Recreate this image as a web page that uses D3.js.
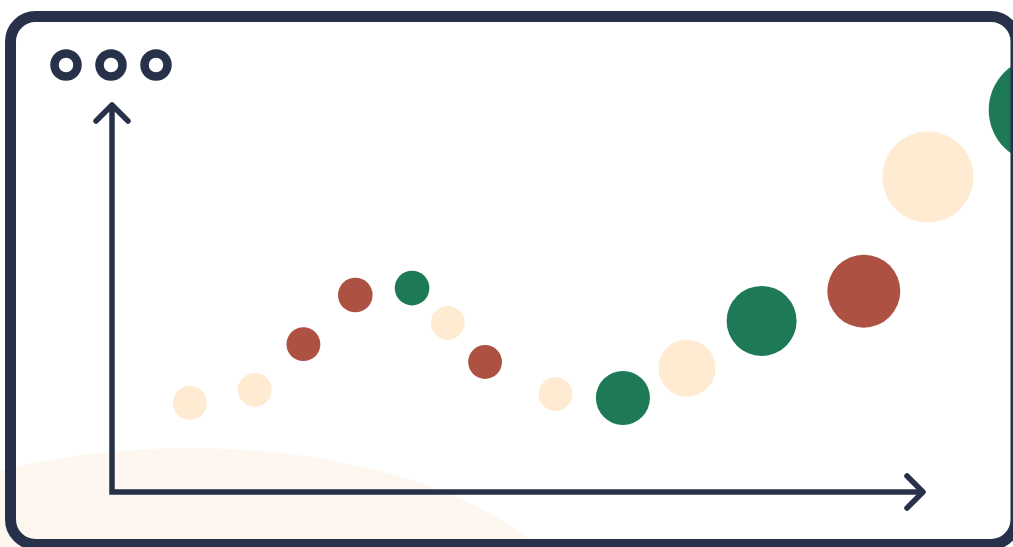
<!DOCTYPE html>
<html>
<head>
<meta charset="utf-8">
<script src="https://cdn.jsdelivr.net/npm/d3@7"></script>
<style>
  html, body { margin: 0; padding: 0; background: #fff; }
  svg { display: block; }
</style>
</head>
<body>
<div id="chart"></div>
<script>
// bubble values
const xValues = [9.6, 17.6, 23.6, 30, 37, 41.4, 46, 54.7, 63, 70.9, 80.1, 92.7, 100.6, 114.7];
const yValues = [23, 26.4, 38.2, 50.9, 52.7, 43.7, 33.6, 25.3, 24.3, 32, 44.2, 51.9, 81.4, 98.7];
const sizes = [10, 10, 10, 10.5, 10.5, 10, 10, 10, 25.5, 28.4, 42.8, 46.5, 72.3, 100];
const groups = ['c', 'c', 'r', 'r', 'g', 'c', 'r', 'c', 'g', 'c', 'g', 'r', 'c', 'g'];

const groupNames = ['c', 'r', 'g'];
const groupColors = ['#ffead2', '#ad5142', '#1e7a56'];

const W = 1013, H = 547;
const ink = '#27324a';

const svg = d3.select('#chart').append('svg')
  .attr('width', W)
  .attr('height', H);

// soft background blob
svg.append('ellipse')
  .attr('cx', 190).attr('cy', 635)
  .attr('rx', 395).attr('ry', 187)
  .attr('fill', '#fdf7ef');

const x = d3.scaleLinear().domain([0, 100]).range([112, 923]);
const y = d3.scaleLinear().domain([0, 100]).range([492, 105]);
const r = d3.scaleSqrt().domain([0, 100]).range([0, 53.5]);
const color = d3.scaleOrdinal().domain(groupNames).range(groupColors);

const data = xValues.map((v, i) => ({ x: v, y: yValues[i], s: sizes[i], g: groups[i] }));

// axes with arrow heads
const [x0, x1] = x.range();
const [y0, y1] = y.range();
const axis = svg.append('g')
  .attr('fill', 'none')
  .attr('stroke', ink)
  .attr('stroke-width', 5.5)
  .attr('stroke-linecap', 'round');

axis.append('path')
  .attr('stroke-linejoin', 'miter')
  .attr('stroke-linecap', 'butt')
  .attr('d', `M${x0},${y1 + 1}V${y0}H${x1 - 1}`);
axis.append('path')
  .attr('stroke-linejoin', 'round')
  .attr('d', `M${x0 - 16},${y1 + 16}L${x0},${y1}L${x0 + 16},${y1 + 16}`);
axis.append('path')
  .attr('stroke-linejoin', 'round')
  .attr('d', `M${x1 - 16},${y0 - 16}L${x1},${y0}L${x1 - 16},${y0 + 16}`);

svg.append('g')
  .selectAll('circle')
  .data(data)
  .enter()
  .append('circle')
  .attr('cx', d => x(d.x))
  .attr('cy', d => y(d.y))
  .attr('r', d => r(d.s))
  .attr('fill', d => color(d.g));

// window frame
svg.append('rect')
  .attr('x', 10.5).attr('y', 16.5)
  .attr('width', 1005.5).attr('height', 528)
  .attr('rx', 25).attr('ry', 25)
  .attr('fill', 'none')
  .attr('stroke', ink)
  .attr('stroke-width', 11);

// window buttons
svg.append('g')
  .selectAll('circle')
  .data([66, 111, 156])
  .enter()
  .append('circle')
  .attr('cx', d => d)
  .attr('cy', 65)
  .attr('r', 11.5)
  .attr('fill', 'none')
  .attr('stroke', ink)
  .attr('stroke-width', 8.5);
</script>
</body>
</html>
